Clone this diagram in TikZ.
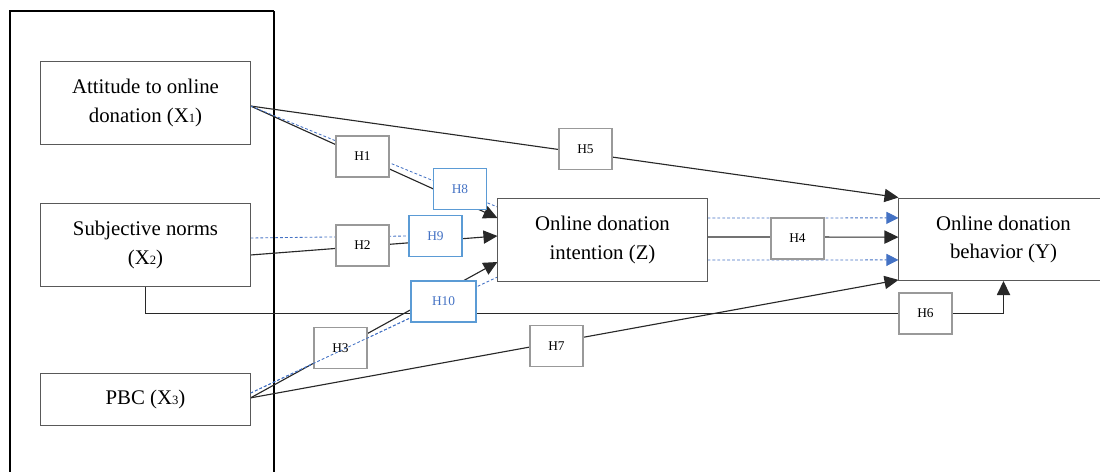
\documentclass[tikz,border=0pt]{standalone}
\usepackage{fontspec}
\setmainfont{Liberation Serif}
\usepackage{tikz}
\usetikzlibrary{arrows.meta,positioning,backgrounds}
\definecolor{medblue}{RGB}{68,114,196}
\definecolor{boxblue}{RGB}{91,155,213}
\definecolor{linegray}{RGB}{40,40,40}
\tikzstyle{construct} = [draw=black!65, line width=0.7pt, fill=white, minimum width=5.225cm, minimum height=2.05cm, align=center, font=\fontsize{14.8}{20}\selectfont]
\tikzstyle{hyp} = [draw=black!40, line width=1pt, fill=white, minimum width=1.325cm, minimum height=1.025cm, inner sep=1pt, font=\fontsize{9.5}{10}\selectfont]
\tikzstyle{medhyp} = [hyp, draw=boxblue, line width=1.3pt, text=medblue]
\tikzstyle{link} = [linegray, line width=0.8pt]
\tikzstyle{arrow} = [link, -{Triangle[length=0.35cm,width=0.33cm]}]
\tikzstyle{medlink} = [medblue, line width=0.6pt, dash pattern=on 2pt off 1.5pt]
\tikzstyle{medarrow} = [medlink, -{Triangle[length=0.3cm,width=0.3cm]}]
\newcommand{\xsub}[1]{{\fontsize{9}{9}\selectfont #1}}

\begin{document}
\begin{tikzpicture}[x=0.025cm, y=-0.025cm]
\useasboundingbox (0,0) rectangle (1100,472);

% Constructs
\node[construct] (X1) at (145.5,103) {Attitude to online\\donation (X\xsub{1})};
\node[construct] (X2) at (145.5,245) {Subjective norms\\(X\xsub{2})};
\node[construct, minimum height=1.3cm] (X3) at (145.5,399.5) {PBC (X\xsub{3})};
\node[construct] (Z) at (602.5,240) {Online donation\\intention (Z)};
\node[construct] (Y) at (1003.5,239.5) {Online donation\\behavior (Y)};

% Hypotheses
\node[hyp] (H1) at (362.5,156.5) {H1};
\node[hyp] (H2) at (362.5,245.5) {H2};
\node[hyp] (H3) at (340.5,348) {H3};
\node[hyp] (H4) at (797.5,238.5) {H4};
\node[hyp] (H5) at (585.5,149) {H5};
\node[hyp] (H6) at (925.5,313.5) {H6};
\node[hyp] (H7) at (556.5,346) {H7};
\node[medhyp] (H8) at (460,189) {H8};
\node[medhyp] (H9) at (435.5,236) {H9};
\node[medhyp, minimum width=1.625cm] (H10) at (443.5,301.5) {H10};

\begin{scope}[on background layer]
% Frame round the predictors
\draw[line width=1pt] (10,472) |- (274,11);
\draw[line width=1.8pt] (274,11) -- (274,472);

% Direct paths
\draw[arrow] ([yshift=-0.075cm]X1.east) -- ([yshift=1.05cm]Y.west);
\draw[arrow] ([yshift=-0.075cm]X1.east) -- ([yshift=0.55cm]Z.west);
\draw[arrow] ([yshift=-0.25cm]X2.east) -- ([yshift=0.1cm]Z.west);
\draw[arrow] ([yshift=0.04cm]X3.east) -- ([yshift=-0.55cm]Z.west);
\draw[arrow] ([yshift=0.04cm]X3.east) -- ([yshift=-1.01cm]Y.west);
\draw[link] (X2.south) |- (H6.west);
\draw[arrow] (H6.east) -| (Y.south);
\draw[arrow] ([yshift=0.075cm]Z.east) -- ([yshift=0.06cm]Y.west);

% Mediated paths
\draw[medlink] ([yshift=-0.075cm]X1.east) -- ([yshift=0.825cm]Z.west);
\draw[medlink] ([yshift=0.175cm]X2.east) -- (H9.west);
\draw[medlink] ([yshift=0.16cm]X3.east) -- ([yshift=-0.925cm]Z.west);
\draw[medarrow] ([yshift=0.55cm]Z.east) -- ([yshift=0.54cm]Y.west);
\draw[medarrow] ([yshift=-0.5cm]Z.east) -- ([yshift=-0.51cm]Y.west);
\end{scope}

% dashed line seen through H3
\draw[medlink] ([yshift=0.16cm]X3.east) -- ([yshift=-0.41cm]H10.west);
\end{tikzpicture}
\end{document}
